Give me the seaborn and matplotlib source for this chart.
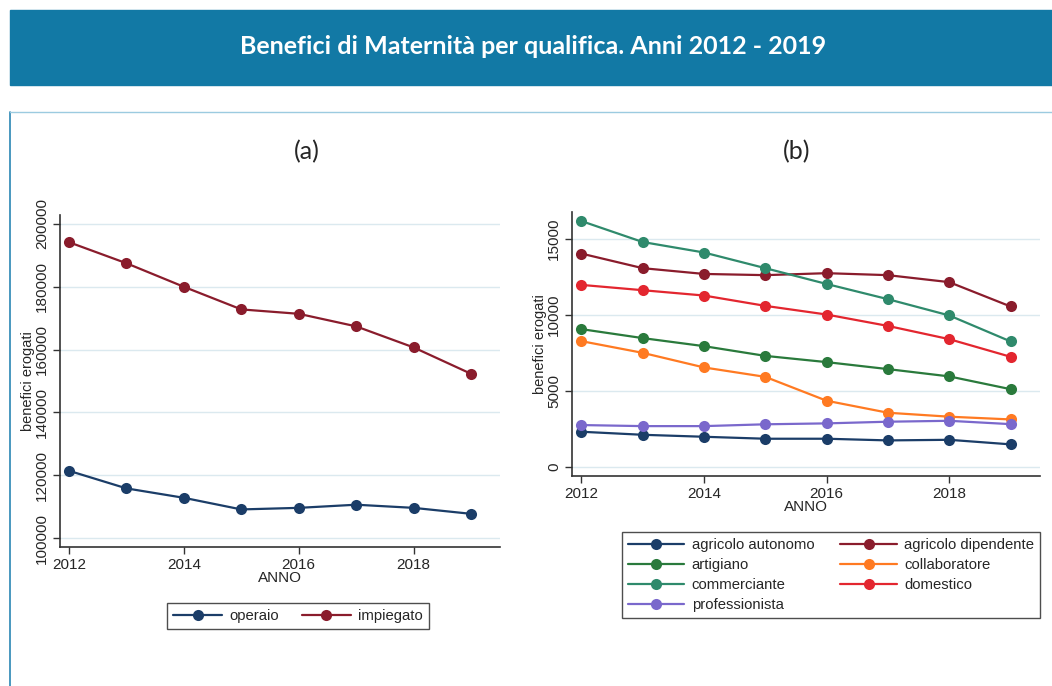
import matplotlib
matplotlib.use("Agg")
import matplotlib.pyplot as plt
import seaborn as sns
import pandas as pd
from matplotlib.patches import Rectangle
from matplotlib.lines import Line2D

# ---------------- data ----------------
anni = [2012, 2013, 2014, 2015, 2016, 2017, 2018, 2019]

operaio = [121400, 115800, 112800, 109100, 109600, 110600, 109600, 107700]
impiegato = [194200, 187500, 180000, 172800, 171400, 167400, 160700, 152300]

agricolo_autonomo = [2300, 2100, 1970, 1840, 1840, 1730, 1770, 1470]
agricolo_dipendente = [14020, 13060, 12680, 12600, 12730, 12600, 12140, 10540]
artigiano = [9050, 8460, 7930, 7290, 6880, 6420, 5940, 5100]
collaboratore = [8260, 7490, 6530, 5910, 4340, 3550, 3290, 3110]
commerciante = [16160, 14780, 14090, 13060, 12020, 11020, 9950, 8240]
domestico = [11960, 11610, 11260, 10580, 10010, 9260, 8390, 7230]
professionista = [2740, 2670, 2670, 2790, 2850, 2960, 3020, 2800]

serie_a = {"operaio": operaio, "impiegato": impiegato}
serie_b = {
    "agricolo autonomo": agricolo_autonomo,
    "agricolo dipendente": agricolo_dipendente,
    "artigiano": artigiano,
    "collaboratore": collaboratore,
    "commerciante": commerciante,
    "domestico": domestico,
    "professionista": professionista,
}

titolo = "Benefici di Maternità per qualifica. Anni 2012 - 2019"
ylabel = "benefici erogati"
xlabel = "ANNO"

col_a = {"operaio": "#1b3d68", "impiegato": "#8a1c2c"}
col_b = {
    "agricolo autonomo": "#1b3d68",
    "agricolo dipendente": "#8a1c2c",
    "artigiano": "#2a7a3c",
    "collaboratore": "#ff7a22",
    "commerciante": "#2f8a6c",
    "domestico": "#e3262f",
    "professionista": "#7a68cc",
}


def long_df(series):
    rows = []
    for name, vals in series.items():
        for a, v in zip(anni, vals):
            rows.append({"ANNO": a, "valore": v, "qualifica": name})
    return pd.DataFrame(rows)


sns.set_style("white")
plt.rcParams["font.family"] = ["Liberation Sans", "DejaVu Sans"]

W, H = 1052, 686
fig = plt.figure(figsize=(W / 100, H / 100), dpi=100)


def px_axes(x0, y0, x1, y1):
    return fig.add_axes([x0 / W, 1 - y1 / H, (x1 - x0) / W, (y1 - y0) / H])


# header band
fig.patches.append(Rectangle((10 / W, 1 - 85 / H), (W - 10) / W, 75 / H,
                             transform=fig.transFigure, color="#1279a5", zorder=0))
fig.text(533 / W, 1 - 46 / H, titolo, color="white", fontsize=18, fontweight="bold",
         family=["Lato", "DejaVu Sans"], ha="center", va="center")
# frame lines
fig.lines.append(Line2D([10 / W, 10 / W], [1 - 112 / H, 0], transform=fig.transFigure,
                        color="#2a86b4", lw=1.2))
fig.lines.append(Line2D([10 / W, 1], [1 - 112 / H, 1 - 112 / H], transform=fig.transFigure,
                        color="#9ccbe0", lw=1.0))
fig.text(307 / W, 1 - 152 / H, "(a)", fontsize=18, family=["Lato", "DejaVu Sans"],
         ha="center", va="center")
fig.text(797 / W, 1 - 152 / H, "(b)", fontsize=18, family=["Lato", "DejaVu Sans"],
         ha="center", va="center")


def style_axes(ax, ticks):
    for s in ["top", "right"]:
        ax.spines[s].set_visible(False)
    for s in ["left", "bottom"]:
        ax.spines[s].set_color("#333333")
        ax.spines[s].set_linewidth(1.2)
    ax.set_yticks(ticks)
    ax.set_xticks([2012, 2014, 2016, 2018])
    ax.yaxis.grid(True, color="#dbe9ef", lw=1.0)
    ax.xaxis.grid(False)
    ax.tick_params(axis="both", which="major", length=5, width=1, color="#333333",
                   labelsize=11, left=True, bottom=True, pad=3)
    for lab in ax.get_yticklabels():
        lab.set_rotation(90)
        lab.set_va("center")
    ax.set_xlabel(xlabel, fontsize=11, labelpad=-1)
    ax.set_ylabel(ylabel, fontsize=10.5, labelpad=0)
    ax.set_axisbelow(True)


# ---------------- panel (a) ----------------
ax1 = px_axes(60, 215, 500, 547)
sns.lineplot(data=long_df(serie_a), x="ANNO", y="valore", hue="qualifica",
             palette=col_a, marker="o", markersize=8, markeredgewidth=0,
             linewidth=1.6, ax=ax1)
ax1.set_xlim(2011.843, 2019.505)
ax1.set_ylim(97134, 202866)
style_axes(ax1, [100000, 120000, 140000, 160000, 180000, 200000])
h, l = ax1.get_legend_handles_labels()
ax1.legend_.remove()
fig.legend(h, l, ncol=2, loc="upper center", bbox_to_anchor=(298 / W, 1 - 596 / H),
           frameon=True, fancybox=False, edgecolor="#222222", fontsize=10.7,
           handlelength=3.3, columnspacing=1.5, borderpad=0.4, handletextpad=0.5)

# ---------------- panel (b) ----------------
ax2 = px_axes(572, 212, 1040, 476)
sns.lineplot(data=long_df(serie_b), x="ANNO", y="valore", hue="qualifica",
             palette=col_b, marker="o", markersize=8, markeredgewidth=0,
             linewidth=1.6, ax=ax2)
ax2.set_xlim(2011.848, 2019.48)
ax2.set_ylim(-611, 16754)
style_axes(ax2, [0, 5000, 10000, 15000])
h, l = ax2.get_legend_handles_labels()
ax2.legend_.remove()
order = ["agricolo autonomo", "artigiano", "commerciante", "professionista",
         "agricolo dipendente", "collaboratore", "domestico"]
hm = dict(zip(l, h))
fig.legend([hm[k] for k in order], order, ncol=2, loc="upper center",
           bbox_to_anchor=(831 / W, 1 - 525 / H), frameon=True, fancybox=False,
           edgecolor="#222222", fontsize=10.7, handlelength=3.8, columnspacing=1.75,
           borderpad=0.4, handletextpad=0.5, labelspacing=0.4)

fig.savefig("out.png", dpi=100)
